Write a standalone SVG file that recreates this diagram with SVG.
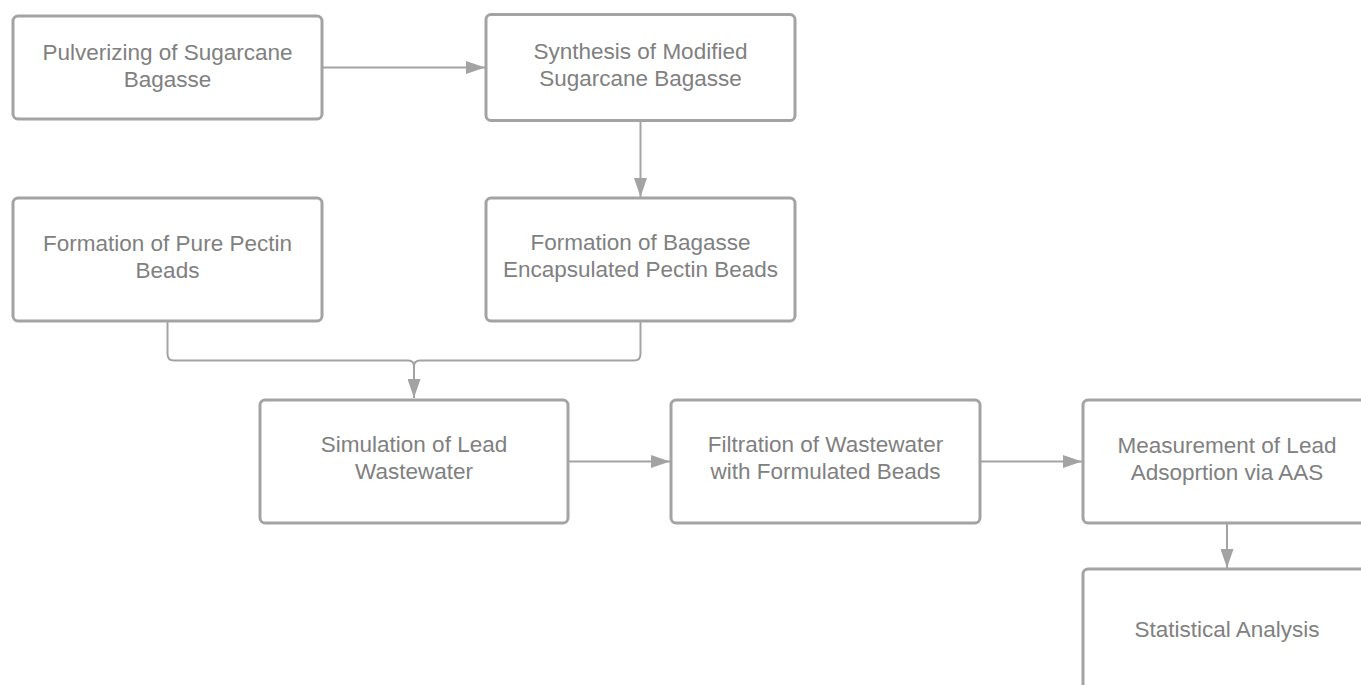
<svg xmlns="http://www.w3.org/2000/svg" width="1361" height="685" viewBox="0 0 1361 685">
<style>
.box{fill:#fff;stroke:#a3a3a3;stroke-width:3}
.lbl{font-family:"Liberation Sans",Arial,sans-serif;font-size:22.5px;fill:#808080;text-anchor:middle}
.con{fill:none;stroke:#a3a3a3;stroke-width:2}
</style>
<defs>
<marker id="ah" markerWidth="19" markerHeight="13" refX="19" refY="6.5" orient="auto" markerUnits="userSpaceOnUse">
<path d="M0,0 L19,6.5 L0,13 Z" fill="#a3a3a3"/>
</marker>
</defs>
<rect width="1361" height="685" fill="#fff"/>
<g id="connectors">
<path class="con" d="M322,67.5 L485,67.5" marker-end="url(#ah)"/>
<path class="con" d="M640.5,121 L640.5,197" marker-end="url(#ah)"/>
<path class="con" d="M167.5,321 L167.5,354 Q167.5,360.5 174,360.5 L408,360.5 Q414,360.5 414,366"/>
<path class="con" d="M640.5,321 L640.5,354 Q640.5,360.5 634,360.5 L420,360.5 Q414,360.5 414,366 L414,398" marker-end="url(#ah)"/>
<path class="con" d="M568,461.5 L670,461.5" marker-end="url(#ah)"/>
<path class="con" d="M980,461.5 L1082,461.5" marker-end="url(#ah)"/>
<path class="con" d="M1227,523 L1227,568" marker-end="url(#ah)"/>
</g>
<g id="n1"><rect class="box" x="13" y="16" width="309" height="103" rx="5"/>
<text class="lbl" x="167.5" y="60">Pulverizing of Sugarcane</text><text class="lbl" x="167.5" y="87">Bagasse</text></g>
<g id="n2"><rect class="box" x="486" y="14.5" width="309" height="106" rx="5"/>
<text class="lbl" x="640.5" y="59">Synthesis of Modified</text><text class="lbl" x="640.5" y="86">Sugarcane Bagasse</text></g>
<g id="n3"><rect class="box" x="13" y="198" width="309" height="123" rx="5"/>
<text class="lbl" x="167.5" y="251">Formation of Pure Pectin</text><text class="lbl" x="167.5" y="278">Beads</text></g>
<g id="n4"><rect class="box" x="486" y="198" width="309" height="123" rx="5"/>
<text class="lbl" x="640.5" y="250">Formation of Bagasse</text><text class="lbl" x="640.5" y="277">Encapsulated Pectin Beads</text></g>
<g id="n5"><rect class="box" x="260" y="400" width="308" height="123" rx="5"/>
<text class="lbl" x="414" y="452">Simulation of Lead</text><text class="lbl" x="414" y="479">Wastewater</text></g>
<g id="n6"><rect class="box" x="671" y="400" width="309" height="123" rx="5"/>
<text class="lbl" x="825.5" y="452">Filtration of Wastewater</text><text class="lbl" x="825.5" y="479">with Formulated Beads</text></g>
<g id="n7"><rect class="box" x="1083" y="400" width="309" height="123" rx="5"/>
<text class="lbl" x="1227" y="452.5">Measurement of Lead</text><text class="lbl" x="1227" y="480">Adsoprtion via AAS</text></g>
<g id="n8"><rect class="box" x="1083" y="569" width="309" height="140" rx="5"/>
<text class="lbl" x="1227" y="637">Statistical Analysis</text></g>
</svg>
